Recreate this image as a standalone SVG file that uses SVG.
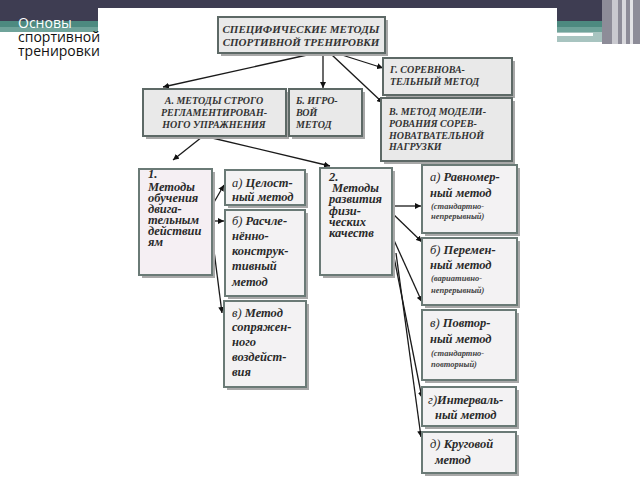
<svg xmlns="http://www.w3.org/2000/svg" width="640" height="480" viewBox="0 0 640 480">
<defs>
<marker id="ah" viewBox="0 0 10 10" refX="10" refY="5" markerWidth="6" markerHeight="6" orient="auto" markerUnits="userSpaceOnUse">
<path d="M0,0 L10,5 L0,10 z" fill="#111"/>
</marker>
</defs>
<style>
.shd{fill:#a8a8a8;}
.bx{fill:#e9e9e9;stroke:#5d6966;stroke-width:2;}
.bxl{fill:#f3f2f3;stroke:#6a7a76;stroke-width:2;}
.bxp{fill:#f5eff3;stroke:#6a7a76;stroke-width:2;}
.cap{font-family:"Liberation Serif",serif;font-style:italic;font-weight:bold;font-size:10px;fill:#333;}
.capt{font-family:"Liberation Serif",serif;font-style:italic;font-weight:bold;font-size:11px;fill:#333;}
.t{font-family:"Liberation Serif",serif;font-style:italic;font-weight:bold;font-size:12.5px;fill:#2a2a2a;}
.n{font-weight:normal;}
.s{font-family:"Liberation Serif",serif;font-style:italic;font-weight:bold;font-size:8.5px;fill:#444;}
.hd{font-family:"Open Sans",sans-serif;font-size:14px;}
.ln{stroke:#1a1a1a;stroke-width:1.3;fill:none;marker-end:url(#ah);}
</style>
<rect x="0" y="0" width="640" height="480" fill="#ffffff"/>
<rect x="0" y="0" width="640" height="21" fill="#3e3d52"/>
<rect x="0" y="21" width="640" height="6" fill="#4d8a80"/>
<rect x="0" y="27" width="640" height="5" fill="#6fa39a"/>
<rect x="557" y="32" width="45" height="10" fill="#a8c4c0"/>
<rect x="557" y="33" width="36" height="3" fill="#ffffff"/>
<rect x="602" y="0" width="38" height="44" fill="#8d8c98"/>
<rect x="612" y="0" width="6" height="44" fill="#c9c9cf"/>
<rect x="622" y="0" width="4" height="44" fill="#d8d8dc"/>
<rect x="630" y="0" width="3" height="44" fill="#e3e3e6"/>
<rect x="98" y="8" width="459" height="472" fill="#ffffff"/>
<g id="header">
<text x="18" y="28" class="hd" fill="#ffffff">Основы</text>
<text x="18" y="42" class="hd" fill="#111">спортивной</text>
<text x="18" y="56" class="hd" fill="#111">тренировки</text>
</g>
<g id="connectors">
<path class="ln" d="M307,55 L163,87"/>
<path class="ln" d="M323,55 L323,88"/>
<path class="ln" d="M342,55 L383,68"/>
<path class="ln" d="M332,55 L383,103"/>
<path class="ln" d="M202,137 L173,160"/>
<path class="ln" d="M208,137 L330,166"/>
<path class="ln" d="M213,204 L224,185"/>
<path class="ln" d="M213,221 L224,221"/>
<path class="ln" d="M212,235 L222,313"/>
<path class="ln" d="M392,206 L421,206"/>
<path class="ln" d="M392,213 L422,242"/>
<path class="ln" d="M393,238 L422,302"/>
<path class="ln" d="M393,252 L422,398"/>
<path class="ln" d="M396,253 L421,437"/>
</g>
<g id="top">
<rect class="shd" x="221" y="20" width="167" height="36"/>
<rect class="bx" x="218" y="17" width="167" height="36"/>
<text class="capt" x="301" y="33" text-anchor="middle">СПЕЦИФИЧЕСКИЕ МЕТОДЫ</text>
<text class="capt" x="301" y="46" text-anchor="middle">СПОРТИВНОЙ ТРЕНИРОВКИ</text>
</g>
<g id="nodeG">
<rect class="shd" x="386" y="61" width="129" height="37"/>
<rect class="bx" x="383" y="58" width="129" height="37"/>
<text class="cap" x="390" y="73">Г. СОРЕВНОВА-</text>
<text class="cap" x="390" y="85">ТЕЛЬНЫЙ МЕТОД</text>
</g>
<g id="nodeA">
<rect class="shd" x="146" y="92" width="143" height="47"/>
<rect class="bx" x="143" y="89" width="143" height="47"/>
<text class="cap" x="214" y="104" text-anchor="middle">А. МЕТОДЫ СТРОГО</text>
<text class="cap" x="214" y="116" text-anchor="middle">РЕГЛАМЕНТИРОВАН-</text>
<text class="cap" x="214" y="128" text-anchor="middle">НОГО УПРАЖНЕНИЯ</text>
</g>
<g id="nodeB">
<rect class="shd" x="292" y="92" width="73" height="47"/>
<rect class="bx" x="289" y="89" width="73" height="47"/>
<text class="cap" x="296" y="104">Б. ИГРО-</text>
<text class="cap" x="296" y="116">ВОЙ</text>
<text class="cap" x="296" y="128">МЕТОД</text>
</g>
<g id="nodeV">
<rect class="shd" x="384" y="101" width="131" height="63"/>
<rect class="bx" x="381" y="98" width="131" height="63"/>
<text class="cap" x="389" y="115">В. МЕТОД МОДЕЛИ-</text>
<text class="cap" x="389" y="127">РОВАНИЯ СОРЕВ-</text>
<text class="cap" x="389" y="139">НОВАТВАТЕЛЬНОЙ</text>
<text class="cap" x="389" y="150">НАГРУЗКИ</text>
</g>
<g id="node1">
<rect class="shd" x="142" y="172" width="73" height="106"/>
<rect class="bxp" x="139" y="169" width="73" height="106"/>
<text class="t" x="148" y="178">1.</text>
<text class="t" x="148" y="191">Методы</text>
<text class="t" x="148" y="202">обучения</text>
<text class="t" x="148" y="213">двига-</text>
<text class="t" x="148" y="224">тельным</text>
<text class="t" x="148" y="235">действии</text>
<text class="t" x="148" y="246">ям</text>
</g>
<g id="node1a">
<rect class="shd" x="228" y="173" width="80" height="35"/>
<rect class="bxl" x="225" y="170" width="80" height="35"/>
<text class="t" x="232" y="187"><tspan class="n">а)</tspan> Целост-</text>
<text class="t" x="232" y="201">ный метод</text>
</g>
<g id="node1b">
<rect class="shd" x="228" y="213" width="80" height="86"/>
<rect class="bxl" x="225" y="210" width="80" height="86"/>
<text class="t" x="232" y="225"><tspan class="n">б)</tspan> Расчле-</text>
<text class="t" x="232" y="240">нённо-</text>
<text class="t" x="232" y="255">конструк-</text>
<text class="t" x="232" y="270">тивный</text>
<text class="t" x="232" y="286">метод</text>
</g>
<g id="node1v">
<rect class="shd" x="227" y="304" width="82" height="86"/>
<rect class="bxl" x="224" y="301" width="82" height="86"/>
<text class="t" x="232" y="317"><tspan class="n">в)</tspan> Метод</text>
<text class="t" x="232" y="331">сопряжен-</text>
<text class="t" x="232" y="346">ного</text>
<text class="t" x="232" y="361">воздейст-</text>
<text class="t" x="232" y="376">вия</text>
</g>
<g id="node2">
<rect class="shd" x="323" y="171" width="72" height="107"/>
<rect class="bxl" x="320" y="168" width="72" height="107"/>
<text class="t" x="329" y="181">2.</text>
<text class="t" x="332" y="192">Методы</text>
<text class="t" x="329" y="203">развития</text>
<text class="t" x="329" y="215">физи-</text>
<text class="t" x="329" y="226">ческих</text>
<text class="t" x="329" y="237">качеств</text>
</g>
<g id="node2a">
<rect class="shd" x="425" y="168" width="95" height="68"/>
<rect class="bxl" x="422" y="165" width="95" height="68"/>
<text class="t" x="430" y="181"><tspan class="n">а)</tspan> Равномер-</text>
<text class="t" x="430" y="197">ный метод</text>
<text class="s" x="431" y="209">(стандартно-</text>
<text class="s" x="431" y="219">непрерывный)</text>
</g>
<g id="node2b">
<rect class="shd" x="425" y="241" width="95" height="67"/>
<rect class="bxl" x="422" y="238" width="95" height="67"/>
<text class="t" x="430" y="254"><tspan class="n">б)</tspan> Перемен-</text>
<text class="t" x="430" y="269">ный метод</text>
<text class="s" x="431" y="281">(вариативно-</text>
<text class="s" x="431" y="293">непрерывный)</text>
</g>
<g id="node2v">
<rect class="shd" x="425" y="313" width="94" height="70"/>
<rect class="bxl" x="422" y="310" width="94" height="70"/>
<text class="t" x="430" y="327"><tspan class="n">в)</tspan> Повтор-</text>
<text class="t" x="430" y="343">ный метод</text>
<text class="s" x="431" y="356">(стандартно-</text>
<text class="s" x="431" y="367">повторный)</text>
</g>
<g id="node2g">
<rect class="shd" x="425" y="390" width="94" height="39"/>
<rect class="bxl" x="422" y="387" width="94" height="39"/>
<text class="t" x="428" y="404"><tspan class="n">г)</tspan>Интерваль-</text>
<text class="t" x="435" y="419">ный метод</text>
</g>
<g id="node2d">
<rect class="shd" x="425" y="435" width="94" height="41"/>
<rect class="bxl" x="422" y="432" width="94" height="41"/>
<text class="t" x="430" y="448"><tspan class="n">д)</tspan> Круговой</text>
<text class="t" x="435" y="464">метод</text>
</g>
</svg>
